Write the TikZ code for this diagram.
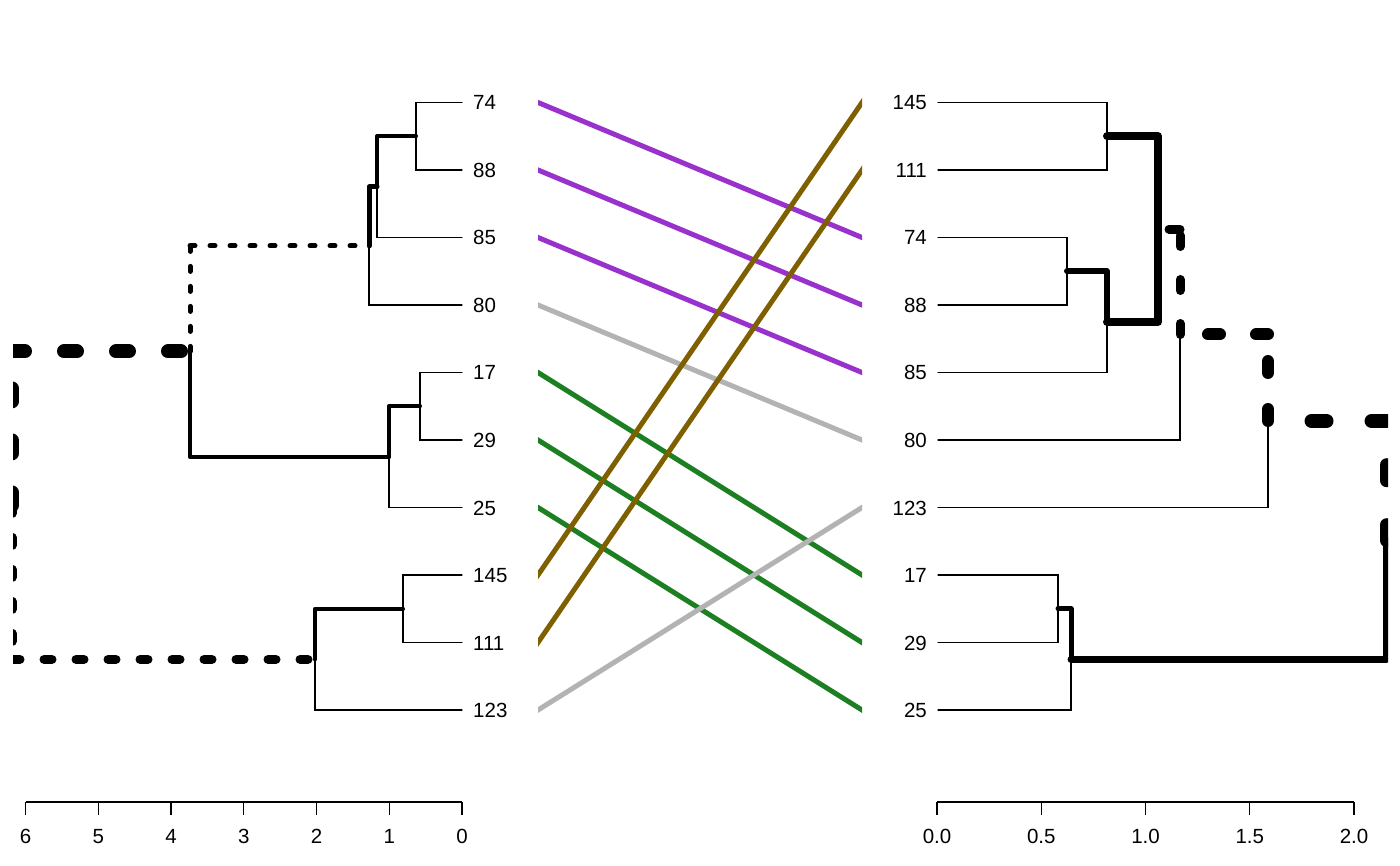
\documentclass[tikz,border=0pt]{standalone}
\usepackage{fontspec}
\setmainfont{Liberation Sans}
\definecolor{lpurple}{HTML}{9932CC}
\definecolor{lgreen}{HTML}{1C7F22}
\definecolor{lbrown}{HTML}{7F6000}
\definecolor{lgrey}{HTML}{B3B3B3}
\begin{document}
\begin{tikzpicture}[x=1pt,y=-1pt,
  leafedge/.style={line width=1.3pt,line cap=round},
  thickedge/.style={line width=#1pt,line cap=round,line join=round},
  dotedge/.style n args={3}{line width=#1pt,line cap=round,dash pattern=on #2pt off #3pt},
  leaflab/.style={inner sep=0pt,font=\fontsize{20.5}{24}\selectfont},
  axlab/.style={inner sep=0pt,anchor=base,font=\fontsize{20.5}{24}\selectfont},
  axline/.style={line width=1.3pt},
  tangle/.style={line width=5pt,shorten <=-6pt,shorten >=-6pt}]
\useasboundingbox (0,0) rectangle (1400,866);
% ---------- left leaves
\foreach \n/\y in {74/102.5,88/170,85/237.5,80/305,17/372.5,29/440,25/507.5,145/575,111/642.5,123/710}{
  \coordinate (l\n) at (462,\y);
  \node[leaflab,anchor=base west] (ll\n) at (473,\y+7.5) {\n};
}
% ---------- right leaves
\foreach \n/\y in {145/102.5,111/170,74/237.5,88/305,85/372.5,80/440,123/507.5,17/575,29/642.5,25/710}{
  \coordinate (r\n) at (938,\y);
  \node[leaflab,anchor=base east] (rl\n) at (927,\y+7.5) {\n};
}
% left inner nodes
\coordinate (lA) at (416,136.25);
\coordinate (lB) at (377,186.9);
\coordinate (lC) at (369,245.9);
\coordinate (lD) at (420,406.25);
\coordinate (lE) at (389,456.9);
\coordinate (lF) at (190,351.4);
\coordinate (lG) at (403,608.75);
\coordinate (lH) at (315,659.4);
\coordinate (lR) at (12,505.4);
% right inner nodes
\coordinate (rA) at (1107,136.25);
\coordinate (rB) at (1067,271.25);
\coordinate (rC) at (1107,321.9);
\coordinate (rD) at (1158,229.1);
\coordinate (rE) at (1180,334.5);
\coordinate (rF) at (1268,421);
\coordinate (rG) at (1058,608.75);
\coordinate (rH) at (1071,659.4);
\coordinate (rR) at (1386.5,540.2);
\begin{scope}
\clip (13,0) rectangle (1388,866);
% left leaf edges
\foreach \p/\c in {lA/l74,lA/l88,lB/l85,lC/l80,lD/l17,lD/l29,lE/l25,lG/l145,lG/l111,lH/l123}{
  \draw[leafedge] (\p) |- (\c);
}
% right leaf edges
\foreach \p/\c in {rA/r145,rA/r111,rB/r74,rB/r88,rC/r85,rE/r80,rF/r123,rG/r17,rG/r29,rH/r25}{
  \draw[leafedge] (\p) |- (\c);
}
% left solid thick edges
\draw[thickedge=4] (lB) |- (lA);
\draw[thickedge=5] (lC) |- (lB);
\draw[thickedge=4] (lE) |- (lD);
\draw[thickedge=4] (lF) |- (lE);
\draw[thickedge=4] (lH) |- (lG);
% left dotted edges
\draw[dotedge={5}{5}{15}] (lF) -- (lF |- lC);
\draw[dotedge={5}{5}{15}] (lF |- lC) -- (lC);
\draw[dotedge={14}{13}{39}] (lR) -- (lR |- lF);
\draw[dotedge={14}{13}{39}] (lR |- lF) -- (lF);
\draw[dotedge={9}{8}{24}] (lR) -- (lR |- lH);
\draw[dotedge={9}{8}{24}] (lR |- lH) -- (lH);
% right solid thick edges
\draw[thickedge=6] (rC) |- (rB);
\draw[thickedge=8] (rD) |- (rA);
\draw[thickedge=8] (rD) |- (rC);
\draw[thickedge=5] (rH) |- (rG);
\draw[thickedge=7] (rR) |- (rH);
% right dotted edges
\draw[dotedge={9}{11}{33}] (rE) -- (rE |- rD);
\draw[dotedge={9}{11}{33}] (rE |- rD) -- (rD);
\draw[dotedge={12}{12}{36}] (rF) -- (rF |- rE);
\draw[dotedge={12}{12}{36}] (rF |- rE) -- (rE);
\draw[dotedge={14}{15}{45}] (rR) -- (rR |- rF);
\draw[dotedge={14}{15}{45}] (rR |- rF) -- (rF);
\end{scope}
% ---------- connecting lines
\foreach \n/\a/\b in {74/102.5/237.5,88/170/305,85/237.5/372.5,80/305/440,17/372.5/575,29/440/642.5,25/507.5/710,145/575/102.5,111/642.5/170,123/710/507.5}{
  \coordinate (ml\n) at (538,\a);
  \coordinate (mr\n) at (862,\b);
}
\begin{scope}
\clip (538,0) rectangle (862,866);
\draw[tangle,lpurple] (ml74) -- (mr74);
\draw[tangle,lpurple] (ml88) -- (mr88);
\draw[tangle,lpurple] (ml85) -- (mr85);
\draw[tangle,lgrey] (ml80) -- (mr80);
\draw[tangle,lgreen] (ml17) -- (mr17);
\draw[tangle,lgreen] (ml29) -- (mr29);
\draw[tangle,lgreen] (ml25) -- (mr25);
\draw[tangle,lbrown] (ml145) -- (mr145);
\draw[tangle,lbrown] (ml111) -- (mr111);
\draw[tangle,lgrey] (ml123) -- (mr123);
\end{scope}
% ---------- axes
\coordinate (la0) at (25.5,802);
\coordinate (la1) at (462,802);
\draw[axline] (la0) -- (la1);
\foreach \v in {0,...,6}{
  \draw[axline] (462-72.75*\v,802) -- (462-72.75*\v,815);
  \node[axlab] (lt\v) at (462-72.75*\v,843) {\v};
}
\coordinate (ra0) at (937,802);
\coordinate (ra1) at (1354,802);
\draw[axline] (ra0) -- (ra1);
\foreach \v/\t in {0/0.0,1/0.5,2/1.0,3/1.5,4/2.0}{
  \draw[axline] (937+104.25*\v,802) -- (937+104.25*\v,815);
  \node[axlab] (rt\v) at (937+104.25*\v,843) {\t};
}
\end{tikzpicture}
\end{document}
